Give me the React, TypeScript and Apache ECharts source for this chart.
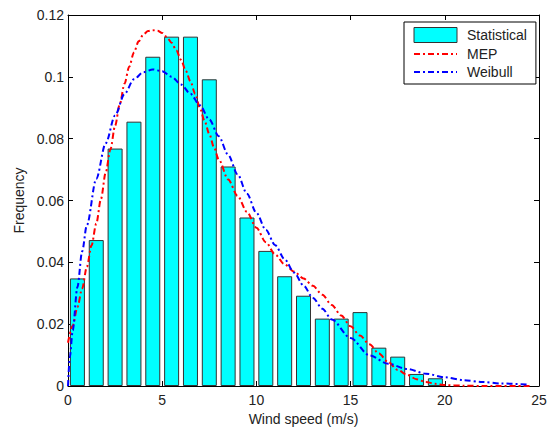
import React, { useEffect, useRef } from "react";
import * as echarts from "echarts";

// Histogram bins (centre of each 1 m/s bin) and observed frequencies
const binCenters = [0.5, 1.5, 2.5, 3.5, 4.5, 5.5, 6.5, 7.5, 8.5, 9.5, 10.5, 11.5, 12.5, 13.5, 14.5, 15.5, 16.5, 17.5, 18.5, 19.5];
const statFreq = [0.0348, 0.0472, 0.0768, 0.0855, 0.1065, 0.113, 0.113, 0.0992, 0.071, 0.0545, 0.0437, 0.0355, 0.0292, 0.0218, 0.0218, 0.0239, 0.0124, 0.0095, 0.0039, 0.0025];

// MEP fitted curve
const mepX = [0, 0.25, 0.5, 0.75, 1.0, 1.25, 1.5, 1.75, 2.0, 2.25, 2.5, 2.75, 3.0, 3.25, 3.5, 3.75, 4.0, 4.25, 4.5, 4.75, 5.0, 5.25, 5.5, 5.75, 6.0, 6.25, 6.5, 6.75, 7.0, 7.25, 7.5, 7.75, 8.0, 8.5, 9.0, 9.5, 10.0, 10.5, 11.0, 11.5, 12.0, 12.5, 13.0, 13.5, 14.0, 14.5, 15.0, 15.5, 16.0, 16.5, 17.0, 17.5, 18.0, 18.5, 19.0, 19.5, 20.0, 21.0, 22.0, 24.5];
const mepY = [0.014, 0.0195, 0.0255, 0.0315, 0.0385, 0.0455, 0.0525, 0.0605, 0.069, 0.0765, 0.0842, 0.0912, 0.0978, 0.1033, 0.1079, 0.1115, 0.1137, 0.1148, 0.1151, 0.1149, 0.1142, 0.1128, 0.111, 0.1085, 0.1055, 0.102, 0.0985, 0.0945, 0.09, 0.0857, 0.0815, 0.0772, 0.0733, 0.0668, 0.0615, 0.0563, 0.0512, 0.0465, 0.0425, 0.0393, 0.037, 0.0348, 0.0324, 0.0295, 0.0262, 0.0228, 0.0193, 0.0163, 0.0135, 0.0105, 0.0077, 0.0052, 0.0036, 0.0022, 0.0013, 0.0007, 0.0003, 0.0001, 0.0, 0.0];

// Weibull fitted curve
const weiX = [0, 0.1, 0.25, 0.5, 0.75, 1.0, 1.5, 2.0, 2.5, 3.0, 3.5, 4.0, 4.5, 5.0, 5.5, 6.0, 6.5, 7.0, 7.5, 8.0, 8.5, 9.0, 9.5, 10.0, 10.5, 11.0, 11.5, 12.0, 12.5, 13.0, 13.5, 14.0, 15.0, 16.0, 17.0, 18.0, 19.0, 20.0, 21.0, 22.0, 23.0, 24.5];
const weiY = [0, 0.0095, 0.018, 0.032, 0.0435, 0.052, 0.067, 0.0785, 0.0875, 0.0945, 0.0992, 0.1015, 0.1024, 0.1018, 0.1, 0.0975, 0.0945, 0.0908, 0.0862, 0.0808, 0.0748, 0.0685, 0.0622, 0.056, 0.0505, 0.0455, 0.041, 0.0367, 0.0325, 0.0285, 0.025, 0.0215, 0.0155, 0.0099, 0.0072, 0.0055, 0.004, 0.0028, 0.0019, 0.0013, 0.0008, 0.0004];

const xTicks = { min: 0, max: 25, interval: 5 };
const yTicks = { min: 0, max: 0.12, interval: 0.02 };

const FONT = "'Liberation Sans', Arial, Helvetica, sans-serif";

export default function App() {
  const ref = useRef<HTMLDivElement>(null);
  useEffect(() => {
    if (!ref.current) return;
    const chart = echarts.init(ref.current, null, { renderer: "svg" });
    const axisCommon = {
      axisLine: { show: true, onZero: false, lineStyle: { color: "#000", width: 1 } },
      axisTick: { show: true, inside: true, length: 5, lineStyle: { color: "#000" } },
      splitLine: { show: false },
    };
    const dash = [6, 3, 2, 3];
    chart.setOption({
      animation: false,
      backgroundColor: "#fff",
      textStyle: { fontFamily: FONT },
      grid: { left: 68, right: 10, top: 15, bottom: 42, containLabel: false, outerBoundsMode: "none" },
      legend: {
        orient: "vertical",
        left: 404,
        top: 22,
        padding: [5, 9, 5, 9],
        itemGap: 4,
        itemWidth: 43,
        itemHeight: 15,
        backgroundColor: "#fff",
        borderColor: "#000",
        borderWidth: 1,
        borderRadius: 0,
        textStyle: { fontSize: 14, color: "#222", fontFamily: FONT, padding: [0, 0, 0, 5] },
        data: [
          { name: "Statistical", icon: "rect", itemStyle: { borderWidth: 1, borderColor: "#333" } },
          { name: "MEP", itemStyle: { opacity: 0 } },
          { name: "Weibull", itemStyle: { opacity: 0 } },
        ],
      },
      xAxis: [
        {
          type: "value",
          ...xTicks,
          position: "bottom",
          name: "Wind speed (m/s)",
          nameLocation: "middle",
          nameGap: 25,
          nameTextStyle: { fontSize: 14, color: "#222", fontFamily: FONT },
          axisLabel: { fontSize: 14, color: "#222", margin: 7, fontFamily: FONT },
          ...axisCommon,
        },
        {
          type: "value",
          ...xTicks,
          position: "top",
          axisLabel: { show: false },
          ...axisCommon,
        },
      ],
      yAxis: [
        {
          type: "value",
          ...yTicks,
          position: "left",
          name: "Frequency",
          nameLocation: "middle",
          nameGap: 38,
          nameTextStyle: { fontSize: 14, color: "#222", fontFamily: FONT },
          axisLabel: { fontSize: 14, color: "#222", margin: 4, fontFamily: FONT },
          ...axisCommon,
        },
        {
          type: "value",
          ...yTicks,
          position: "right",
          axisLabel: { show: false },
          ...axisCommon,
        },
      ],
      series: [
        {
          name: "Statistical",
          type: "bar",
          xAxisIndex: 0,
          yAxisIndex: 0,
          barWidth: 15,
          itemStyle: { color: "#00ffff", borderColor: "#333", borderWidth: 1 },
          data: binCenters.map((x, i) => [x, statFreq[i]]),
        },
        {
          name: "MEP",
          type: "line",
          xAxisIndex: 0,
          yAxisIndex: 0,
          symbol: "none",
          showSymbol: false,
          smooth: 0.3,
          smoothMonotone: "x",
          itemStyle: { color: "#ff0000" },
          lineStyle: { color: "#ff0000", width: 2, type: dash },
          data: mepX.map((x, i) => [x, mepY[i]]),
        },
        {
          name: "Weibull",
          type: "line",
          xAxisIndex: 0,
          yAxisIndex: 0,
          symbol: "none",
          showSymbol: false,
          smooth: 0.3,
          smoothMonotone: "x",
          itemStyle: { color: "#0000ff" },
          lineStyle: { color: "#0000ff", width: 2, type: dash },
          data: weiX.map((x, i) => [x, weiY[i]]),
        },
      ],
    });
    return () => chart.dispose();
  }, []);
  return (
    <div
      ref={ref}
      style={{ position: "fixed", left: 0, top: 0, width: 549, height: 428 }}
    />
  );
}
